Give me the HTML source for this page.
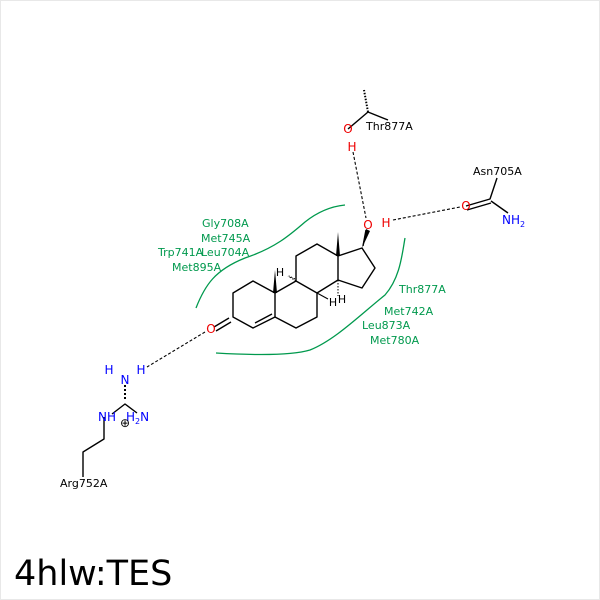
<!DOCTYPE html>
<html><head><style>body{margin:0;background:#fff}svg{display:block}</style></head><body>
<svg width="600" height="600" viewBox="0 0 600 600" xmlns="http://www.w3.org/2000/svg" font-family="DejaVu Sans, Liberation Sans, sans-serif">
<rect x="0.5" y="0.5" width="599" height="599" fill="#fff" stroke="#e8e8e8"/>
<g fill="none" stroke="#00994d" stroke-width="1.3">
<path d="M196,308 C205,285 215,270 245,258 C275,248 290,235 305,222 C320,210 335,206 345,205"/>
<path d="M216,353 C250,355 290,356 310,350 C335,340 360,315 385,295 C400,278 402,255 405,238"/>
</g>
<g stroke="#000" stroke-width="1.4" fill="none" stroke-linejoin="round">
<path d="M253,281 L233,293 L233,317 L253,328 L275,317 L275,293 Z"/>
<path d="M255,323 L272,314"/>
<path d="M275,317 L296,328 L317,317 L317,293 L296,281 L275,293"/>
<path d="M296,281 L296,256 L317,244 L338,256 L338,280 L317,293"/>
<path d="M338,256 L362,248 L375,268 L362,288 L338,280"/>
<path d="M229,318 L214,327 M231,322 L216,331"/>
<path d="M363,246 L366,230"/>
<path d="M348,129 L368,112 L388,120"/>
<path d="M466,206 L490,199 L497,178 M467,210 L491,203 M491,201 L508,213"/>
<path d="M104,417 L104,439 L83,452 L83,477"/>
<path d="M112,414 L125,404 L137,413"/>
</g>
<polygon points="336,256 340,256 338,232" fill="#000"/>
<polygon points="273,293 277,293 275,270" fill="#000"/>
<polygon points="362,248 370,231 366,229" fill="#000"/>
<g stroke="#000" stroke-width="1">
<path d="M296,281 L288,276 M295,279 L289,276" stroke-dasharray="1.5,1.5"/>
<path d="M338,280 L338,296" stroke-dasharray="1.5,1.5"/>
<path d="M317,293 L328,299"/>
<path d="M368,112 L364,90" stroke-dasharray="1.5,1.5" stroke-width="2"/>
<path d="M125,385 L125,400" stroke-dasharray="2,2" stroke-width="2"/>
</g>
<g stroke="#000" stroke-width="1.1" stroke-dasharray="3,2" fill="none">
<path d="M353,152 L366,218"/>
<path d="M393,220 L460,207"/>
<path d="M205,332 L147,367"/>
</g>
<g font-size="11">
<g font-size="12">
<text x="211" y="333" fill="#e00" text-anchor="middle">O</text>
<text x="368" y="229" fill="#e00" text-anchor="middle">O</text>
<text x="386" y="227" fill="#e00" text-anchor="middle">H</text>
<text x="348" y="133" fill="#e00" text-anchor="middle">O</text>
<text x="352" y="151" fill="#e00" text-anchor="middle">H</text>
<text x="466" y="210" fill="#e00" text-anchor="middle">O</text>
<text x="502" y="224" fill="#00f">NH<tspan font-size="8" dy="3">2</tspan></text>
<text x="125" y="384" fill="#00f" text-anchor="middle">N</text>
<text x="109" y="374" fill="#00f" text-anchor="middle">H</text>
<text x="141" y="374" fill="#00f" text-anchor="middle">H</text>
<text x="98" y="421" fill="#00f">NH</text>
<text x="126" y="421" fill="#00f">H<tspan font-size="8" dy="3">2</tspan><tspan dy="-3">N</tspan></text>
</g>
<text x="280" y="276" fill="#000" text-anchor="middle">H</text>
<text x="333" y="306" fill="#000" text-anchor="middle">H</text>
<text x="342" y="303" fill="#000" text-anchor="middle">H</text>
<text x="366" y="130" fill="#000">Thr877A</text>
<text x="473" y="175" fill="#000">Asn705A</text>
<text x="60" y="487" fill="#000">Arg752A</text>
<text x="125" y="427" fill="#000" text-anchor="middle" font-size="12">⊕</text>
<g fill="#00994d">
<text x="202" y="227">Gly708A</text>
<text x="201" y="242">Met745A</text>
<text x="158" y="256">Trp741A</text>
<text x="201" y="256">Leu704A</text>
<text x="172" y="271">Met895A</text>
<text x="399" y="293">Thr877A</text>
<text x="384" y="315">Met742A</text>
<text x="362" y="329">Leu873A</text>
<text x="370" y="344">Met780A</text>
</g>
</g>
<text x="14" y="585" font-size="35" fill="#000">4hlw:TES</text>
</svg>
</body></html>
